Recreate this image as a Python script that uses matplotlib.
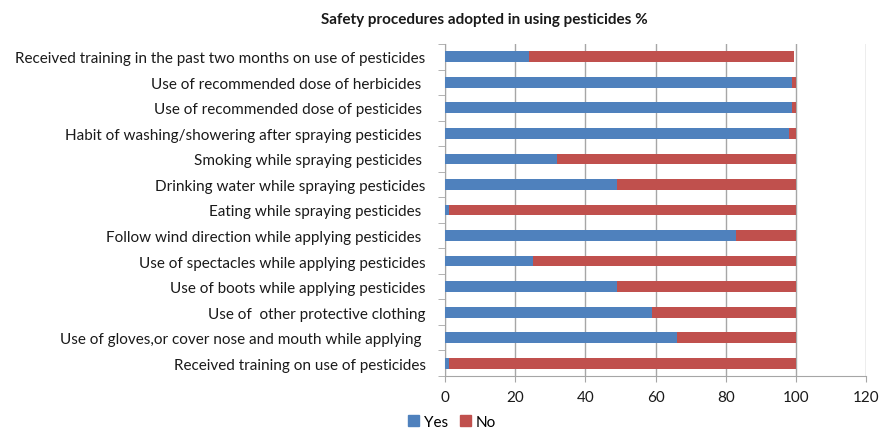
import matplotlib
matplotlib.use("Agg")
import matplotlib.pyplot as plt
from matplotlib.patches import Patch

categories = [
    "Received training in the past two months on use of pesticides",
    "Use of recommended dose of herbicides ",
    "Use of recommended dose of pesticides ",
    "Habit of washing/showering after spraying pesticides ",
    "Smoking while spraying pesticides ",
    "Drinking water while spraying pesticides",
    "Eating while spraying pesticides ",
    "Follow wind direction while applying pesticides ",
    "Use of spectacles while applying pesticides",
    "Use of boots while applying pesticides",
    "Use of  other protective clothing",
    "Use of gloves,or cover nose and mouth while applying ",
    "Received training on use of pesticides",
]
yes_pct = [24, 99, 99, 98, 32, 49, 1.2, 83, 25, 49, 59, 66, 1]
no_pct = [75.5, 1, 1, 2, 68, 51, 98.8, 17, 75, 51, 41, 34, 99]
x_ticks = [0, 20, 40, 60, 80, 100, 120]

BLUE = "#4F81BD"
RED = "#C0504D"
GRID = "#A6A6A6"

plt.rcParams["font.family"] = ["Lato", "DejaVu Sans"]

fig = plt.figure(figsize=(8.8, 4.31), dpi=100)
ax = fig.add_axes([445 / 880, 1 - 377 / 431, (866 - 445) / 880, (377 - 45) / 431])

n = len(categories)
pos = [n - 1 - i for i in range(n)]
ax.barh(pos, yes_pct, height=0.42, color=BLUE, zorder=3)
ax.barh(pos, no_pct, left=yes_pct, height=0.42, color=RED, zorder=3)

ax.set_xlim(0, 120)
ax.set_ylim(-0.5, n - 0.5)
ax.set_xticks(x_ticks)
ax.set_xticklabels([str(t) for t in x_ticks], fontsize=11, color="#1a1a1a")
ax.set_yticks(pos)
ax.set_yticklabels(categories, fontsize=11, color="#1a1a1a")
ax.tick_params(axis="y", length=0, pad=14)
ax.tick_params(axis="x", length=4, color=GRID, pad=6)
ax.set_yticks([k - 0.5 for k in range(n + 1)], minor=True)
ax.tick_params(axis="y", which="minor", length=5, color=GRID)

ax.grid(axis="x", color=GRID, linewidth=1, zorder=0)
for side in ["top", "right"]:
    ax.spines[side].set_visible(False)
ax.spines["left"].set_color(GRID)
ax.spines["bottom"].set_color(GRID)

fig.text(484 / 880, 1 - 20 / 431, "Safety procedures adopted in using pesticides %",
         ha="center", va="center", fontsize=11, fontweight="bold", color="#1a1a1a")

handles = [Patch(color=BLUE, label="Yes"), Patch(color=RED, label="No")]
fig.legend(handles=handles, loc="center", bbox_to_anchor=(452 / 880, 1 - 423 / 431),
           ncol=2, frameon=False, fontsize=11, handlelength=0.7, handleheight=0.7,
           handletextpad=0.3, columnspacing=0.8)

fig.savefig("out.png", dpi=100)
